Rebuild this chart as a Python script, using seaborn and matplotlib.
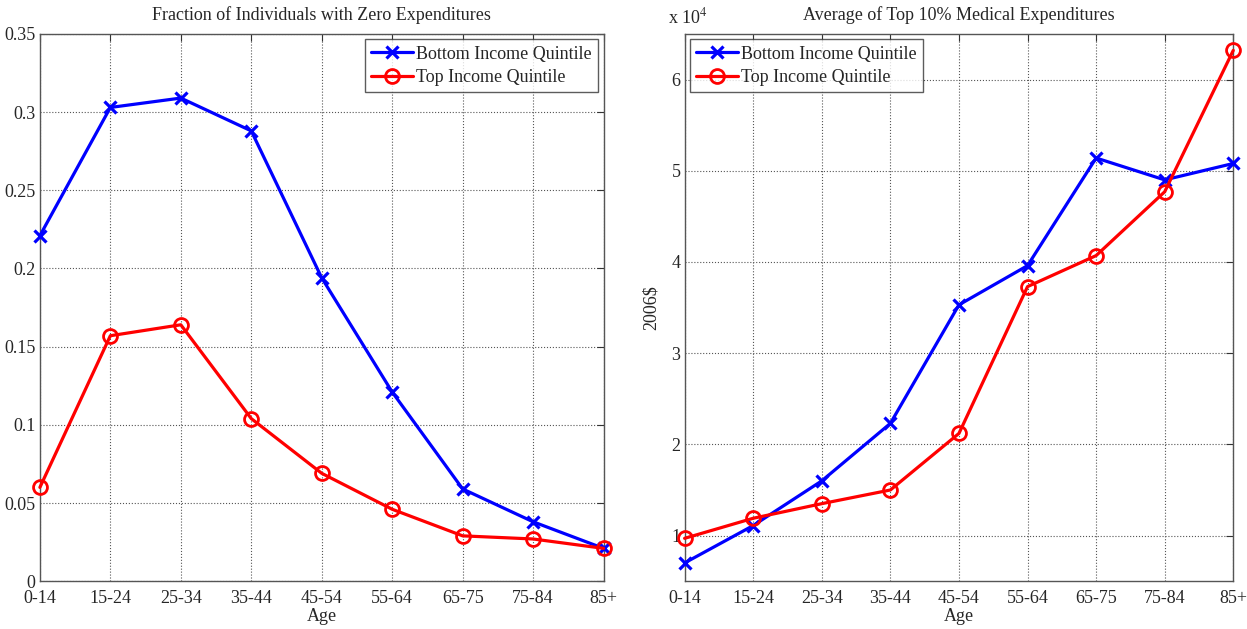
import numpy as np
import pandas as pd
import matplotlib
matplotlib.use("Agg")
import matplotlib.pyplot as plt
from matplotlib.ticker import FuncFormatter, MultipleLocator
import seaborn as sns

# data
age_groups = ["0-14", "15-24", "25-34", "35-44", "45-54", "55-64", "65-75", "75-84", "85+"]
zero_bottom = [0.221, 0.303, 0.309, 0.288, 0.194, 0.121, 0.059, 0.038, 0.021]
zero_top = [0.060, 0.157, 0.164, 0.104, 0.069, 0.046, 0.029, 0.027, 0.021]
top10_bottom = [7000, 11100, 16000, 22300, 35300, 39600, 51400, 49000, 50800]
top10_top = [9700, 11900, 13500, 15000, 21200, 37300, 40700, 47700, 63200]

sns.set_theme(style="white")
plt.rcParams["font.family"] = ["Liberation Serif", "DejaVu Serif"]
plt.rcParams["mathtext.fontset"] = "stix"

pos = np.arange(len(age_groups))


def draw(ax, bottom, top, legend_loc):
    df = pd.DataFrame({
        "pos": np.concatenate([pos, pos]),
        "val": bottom + top,
        "series": ["Bottom Income Quintile"] * len(pos) + ["Top Income Quintile"] * len(pos),
    })
    sns.lineplot(data=df[df["series"] == "Bottom Income Quintile"], x="pos", y="val",
                 ax=ax, color="#0000ff", lw=2.3, marker="x", markersize=8,
                 markeredgecolor="#0000ff", markeredgewidth=2.3,
                 label="Bottom Income Quintile", clip_on=False, zorder=3)
    sns.lineplot(data=df[df["series"] == "Top Income Quintile"], x="pos", y="val",
                 ax=ax, color="#ff0000", lw=2.3, marker="o", markersize=10,
                 markerfacecolor="none", markeredgecolor="#ff0000",
                 markeredgewidth=2.0, label="Top Income Quintile",
                 clip_on=False, zorder=3)
    ax.set_xlim(pos[0], pos[-1])
    ax.set_xticks(pos)
    ax.set_xticklabels(age_groups)
    ax.set_xlabel("Age", fontsize=13, labelpad=1)
    ax.grid(True, color="#555555", linestyle=":", linewidth=0.8)
    ax.tick_params(direction="in", top=True, right=True, labelsize=13,
                   length=5, width=0.8, color="#333333")
    ax.tick_params(axis="x", pad=6)
    ax.tick_params(axis="y", pad=3)
    for s in ax.spines.values():
        s.set_color("#555555")
        s.set_linewidth(1.0)
    leg = ax.legend(loc=legend_loc, fontsize=13, frameon=True, fancybox=False,
                    borderaxespad=0.3, handlelength=2.3, handletextpad=0.2,
                    borderpad=0.35, labelspacing=0.35)
    leg.get_frame().set_edgecolor("#333333")
    leg.get_frame().set_linewidth(1.0)
    leg.set_zorder(5)


fig = plt.figure(figsize=(12.47, 6.29), dpi=100)
ax1 = fig.add_axes([0.032, 0.076, 0.452, 0.870])
ax2 = fig.add_axes([0.549, 0.076, 0.440, 0.870])

draw(ax1, zero_bottom, zero_top, "upper right")
ax1.set_ylim(0, 0.35)
ax1.yaxis.set_major_locator(MultipleLocator(0.05))
ax1.yaxis.set_major_formatter(FuncFormatter(lambda v, p: f"{v:g}" if abs(v) > 1e-9 else "0"))
ax1.set_ylabel("")
ax1.set_title("Fraction of Individuals with Zero Expenditures", fontsize=13, pad=10)

draw(ax2, top10_bottom, top10_top, "upper left")
ax2.set_ylim(5000, 65000)
ax2.yaxis.set_major_locator(MultipleLocator(10000))
ax2.yaxis.set_major_formatter(FuncFormatter(lambda v, p: f"{v / 1e4:g}"))
ax2.set_ylabel("2006$", fontsize=13, labelpad=8)
ax2.set_title("Average of Top 10% Medical Expenditures", fontsize=13, pad=10)
ax2.text(-0.03, 1.012, r"x 10$^4$", transform=ax2.transAxes, fontsize=13,
         ha="left", va="bottom")

fig.savefig("out.png", dpi=100)
